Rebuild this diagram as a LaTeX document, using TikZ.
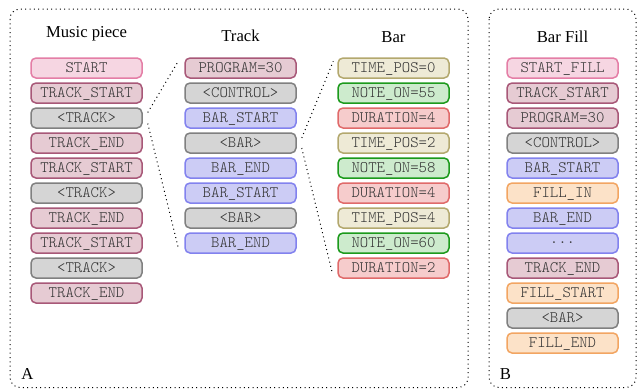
\documentclass[tikz,border=0pt]{standalone}
\usepackage{fontspec}
\setmainfont{Liberation Serif}
\setmonofont{Latin Modern Mono Light}
\usetikzlibrary{positioning}

\definecolor{startfill}{HTML}{F6D6E2}
\definecolor{startdraw}{HTML}{E47EA6}
\definecolor{trkfill}{HTML}{E6CBD3}
\definecolor{trkdraw}{HTML}{A85878}
\definecolor{ctrlfill}{HTML}{D5D5D5}
\definecolor{ctrldraw}{HTML}{808080}
\definecolor{barfill}{HTML}{CCCCF5}
\definecolor{bardraw}{HTML}{8282EE}
\definecolor{timefill}{HTML}{EEEAD6}
\definecolor{timedraw}{HTML}{B3A86E}
\definecolor{notefill}{HTML}{CDEBCD}
\definecolor{notedraw}{HTML}{1C9A1C}
\definecolor{durfill}{HTML}{F6CCCC}
\definecolor{durdraw}{HTML}{E06A6A}
\definecolor{fillfill}{HTML}{FCE2C8}
\definecolor{filldraw}{HTML}{F2A562}

\begin{document}
\begin{tikzpicture}[x=0.6pt,y=0.6pt,node distance=15pt,
    tok/.style={rectangle, rounded corners=3pt, line width=0.9pt,
        minimum width=66.6pt, minimum height=12pt, inner sep=0pt,
        text height=5.8pt, text depth=0pt,
        font=\fontsize{9.6}{11}\ttfamily, text=black!80},
    tkstart/.style={tok, draw=startdraw, fill=startfill},
    tktrack/.style={tok, draw=trkdraw, fill=trkfill},
    tkctrl/.style={tok, draw=ctrldraw, fill=ctrlfill},
    tkbar/.style={tok, draw=bardraw, fill=barfill},
    tktime/.style={tok, draw=timedraw, fill=timefill},
    tknote/.style={tok, draw=notedraw, fill=notefill},
    tkdur/.style={tok, draw=durdraw, fill=durfill},
    tkfill/.style={tok, draw=filldraw, fill=fillfill},
    title/.style={anchor=base, font=\fontsize{10}{12}\selectfont},
    frame/.style={dotted, semithick, rounded corners=6pt},
    link/.style={dotted, semithick}]
        \useasboundingbox (0,0) rectangle (638,-389);

        % panels
        \draw[frame] (10,-9) rectangle (468,-387.5);
        \draw[frame] (489,-9) rectangle (636,-387.5);
        \node[title] (la) at (27.5,-379) {A};
        \node[title] (lb) at (505.5,-379) {B};

        % music piece
        \node[title] (hm) at (86.5,-37.5) {Music piece};
        \node[tkstart] (m1) at (86.5,-68) {START};
        \node[tktrack] (m2) [below of = m1] {TRACK\_START};
        \node[tkctrl] (m3) [below of = m2] {<TRACK>};
        \node[tktrack] (m4) [below of = m3] {TRACK\_END};
        \node[tktrack] (m5) [below of = m4] {TRACK\_START};
        \node[tkctrl] (m6) [below of = m5] {<TRACK>};
        \node[tktrack] (m7) [below of = m6] {TRACK\_END};
        \node[tktrack] (m8) [below of = m7] {TRACK\_START};
        \node[tkctrl] (m9) [below of = m8] {<TRACK>};
        \node[tktrack] (m10) [below of = m9] {TRACK\_END};

        % track
        \node[title] (ht) at (240.5,-41.7) {Track};
        \node[tktrack] (t1) at (240.5,-68) {PROGRAM=30};
        \node[tkctrl] (t2) [below of = t1] {<CONTROL>};
        \node[tkbar] (t3) [below of = t2] {BAR\_START};
        \node[tkctrl] (t4) [below of = t3] {<BAR>};
        \node[tkbar] (t5) [below of = t4] {BAR\_END};
        \node[tkbar] (t6) [below of = t5] {BAR\_START};
        \node[tkctrl] (t7) [below of = t6] {<BAR>};
        \node[tkbar] (t8) [below of = t7] {BAR\_END};

        % bar
        \node[title] (hb) at (393.5,-42) {Bar};
        \node[tktime] (b1) at (393.5,-68) {TIME\_POS=0};
        \node[tknote] (b2) [below of = b1] {NOTE\_ON=55};
        \node[tkdur] (b3) [below of = b2] {DURATION=4};
        \node[tktime] (b4) [below of = b3] {TIME\_POS=2};
        \node[tknote] (b5) [below of = b4] {NOTE\_ON=58};
        \node[tkdur] (b6) [below of = b5] {DURATION=4};
        \node[tktime] (b7) [below of = b6] {TIME\_POS=4};
        \node[tknote] (b8) [below of = b7] {NOTE\_ON=60};
        \node[tkdur] (b9) [below of = b8] {DURATION=2};

        % bar fill
        \node[title] (hf) at (562.5,-42) {Bar Fill};
        \node[tkstart] (f1) at (562.5,-68) {START\_FILL};
        \node[tktrack] (f2) [below of = f1] {TRACK\_START};
        \node[tktrack] (f3) [below of = f2] {PROGRAM=30};
        \node[tkctrl] (f4) [below of = f3] {<CONTROL>};
        \node[tkbar] (f5) [below of = f4] {BAR\_START};
        \node[tkfill] (f6) [below of = f5] {FILL\_IN};
        \node[tkbar] (f7) [below of = f6] {BAR\_END};
        \node[tkbar] (f8) [below of = f7] {···};
        \node[tktrack] (f9) [below of = f8] {TRACK\_END};
        \node[tkfill] (f10) [below of = f9] {FILL\_START};
        \node[tkctrl] (f11) [below of = f10] {<BAR>};
        \node[tkfill] (f12) [below of = f11] {FILL\_END};

        % zoom lines
        \draw[link] ([xshift=3pt,yshift=3.3pt]m3.east) -- ([xshift=-3.6pt,yshift=-2.4pt]t1.north west);
        \draw[link] ([xshift=3pt,yshift=-3.3pt]m3.east) -- ([xshift=-3.6pt,yshift=3.6pt]t8.south west);
        \draw[link] ([xshift=3pt,yshift=3pt]t4.east) -- ([xshift=-2.4pt,yshift=-2.4pt]b1.north west);
        \draw[link] ([xshift=3pt,yshift=-3pt]t4.east) -- ([xshift=-3pt,yshift=3.6pt]b9.south west);
\end{tikzpicture}
\end{document}
